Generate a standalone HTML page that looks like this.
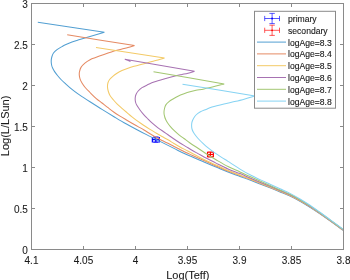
<!DOCTYPE html>
<html><head><meta charset="utf-8"><style>
html,body{margin:0;padding:0;background:#fff;width:350px;height:280px;overflow:hidden}
svg{display:block;will-change:transform}
text{font-family:"Liberation Sans",sans-serif;font-size:10px;fill:#1a1a1a;stroke:#1a1a1a;stroke-width:0.08px}
.lg text{font-size:8.6px;stroke-width:0.12px}
</style></head><body>
<svg width="350" height="280" viewBox="0 0 350 280">
<rect width="350" height="280" fill="#fff"/>
<defs><clipPath id="ax"><rect x="31" y="3" width="312" height="247"/></clipPath></defs>
<g stroke="#0000ff" stroke-width="1.2" fill="none"><path d="M152.35,139.70 H159.35 M152.35,137.00 V142.40 M159.35,137.00 V142.40 M155.85,137.20 V142.20 M153.15,137.20 H158.55 M153.15,142.20 H158.55"/></g><circle cx="155.85" cy="139.70" r="0.9" fill="#0000ff"/><g stroke="#ff0000" stroke-width="1.2" fill="none"><path d="M207.55,154.50 H213.35 M207.55,151.80 V157.20 M213.35,151.80 V157.20 M210.45,152.20 V156.80 M207.75,152.20 H213.15 M207.75,156.80 H213.15"/></g><circle cx="210.45" cy="154.50" r="0.9" fill="#ff0000"/>
<g clip-path="url(#ax)" fill="none" stroke-width="1.05" stroke-linejoin="miter" stroke-linecap="butt">
<path d="M37.80,22.20 C48.90,23.88 93.30,30.62 104.40,32.30 L104.40,32.30 C102.00,33.00 93.40,35.52 90.00,36.50 C86.60,37.48 86.00,37.62 84.00,38.20 C82.00,38.78 80.00,39.37 78.00,40.00 C76.00,40.63 74.00,41.25 72.00,42.00 C70.00,42.75 67.67,43.73 66.00,44.50 C64.33,45.27 63.50,45.75 62.00,46.60 C60.50,47.45 58.42,48.53 57.00,49.60 C55.58,50.67 54.37,51.77 53.50,53.00 C52.63,54.23 52.18,55.67 51.80,57.00 C51.42,58.33 51.23,59.67 51.20,61.00 C51.17,62.33 51.37,63.83 51.60,65.00 C51.83,66.17 52.10,66.90 52.60,68.00 C53.10,69.10 53.78,70.35 54.60,71.60 C55.42,72.85 56.43,74.18 57.50,75.50 C58.57,76.82 59.67,78.13 61.00,79.50 C62.33,80.87 63.67,82.05 65.50,83.70 C67.33,85.35 69.92,87.70 72.00,89.40 C74.08,91.10 76.00,92.48 78.00,93.90 C80.00,95.32 82.00,96.58 84.00,97.90 C86.00,99.22 87.00,99.88 90.00,101.80 C93.00,103.72 98.00,106.92 102.00,109.40 C106.00,111.88 110.00,114.30 114.00,116.70 C118.00,119.10 122.00,121.53 126.00,123.80 C130.00,126.07 134.00,128.20 138.00,130.30 C142.00,132.40 146.00,134.38 150.00,136.40 C154.00,138.42 158.00,140.40 162.00,142.40 C166.00,144.40 170.00,146.42 174.00,148.40 C178.00,150.38 181.00,152.03 186.00,154.30 C191.00,156.57 199.00,159.88 204.00,162.00 C209.00,164.12 212.00,165.32 216.00,167.00 C220.00,168.68 224.00,170.53 228.00,172.10 C232.00,173.67 236.33,175.07 240.00,176.40 C243.67,177.73 246.67,178.85 250.00,180.10 C253.33,181.35 256.67,182.62 260.00,183.90 C263.33,185.18 266.67,186.47 270.00,187.80 C273.33,189.13 276.67,190.52 280.00,191.90 C283.33,193.28 286.67,194.53 290.00,196.10 C293.33,197.67 296.67,199.43 300.00,201.30 C303.33,203.17 306.67,205.20 310.00,207.30 C313.33,209.40 316.67,211.63 320.00,213.90 C323.33,216.17 326.17,218.17 330.00,220.90 C333.83,223.63 340.83,228.73 343.00,230.30" stroke="#529fd2"/>
<path d="M67.20,34.80 C78.42,36.58 123.28,43.72 134.50,45.50 L134.50,45.50 C133.42,45.83 130.08,46.92 128.00,47.50 C125.92,48.08 124.00,48.50 122.00,49.00 C120.00,49.50 119.00,49.58 116.00,50.50 C113.00,51.42 107.50,53.30 104.00,54.50 C100.50,55.70 97.25,56.87 95.00,57.70 C92.75,58.53 92.18,58.60 90.50,59.50 C88.82,60.40 86.48,61.78 84.90,63.10 C83.32,64.42 81.90,65.97 81.00,67.40 C80.10,68.83 79.78,70.42 79.50,71.70 C79.22,72.98 79.20,73.85 79.30,75.10 C79.40,76.35 79.65,77.88 80.10,79.20 C80.55,80.52 81.15,81.62 82.00,83.00 C82.85,84.38 83.87,85.92 85.20,87.50 C86.53,89.08 88.20,90.70 90.00,92.50 C91.80,94.30 94.00,96.55 96.00,98.30 C98.00,100.05 100.00,101.43 102.00,103.00 C104.00,104.57 106.00,106.17 108.00,107.70 C110.00,109.23 112.00,110.80 114.00,112.20 C116.00,113.60 118.00,114.85 120.00,116.10 C122.00,117.35 124.00,118.52 126.00,119.70 C128.00,120.88 130.00,122.05 132.00,123.20 C134.00,124.35 136.00,125.47 138.00,126.60 C140.00,127.73 142.00,128.80 144.00,130.00 C146.00,131.20 148.00,132.58 150.00,133.80 C152.00,135.02 154.00,136.18 156.00,137.30 C158.00,138.42 160.00,139.50 162.00,140.50 C164.00,141.50 166.00,142.30 168.00,143.30 C170.00,144.30 172.00,145.47 174.00,146.50 C176.00,147.53 178.00,148.50 180.00,149.50 C182.00,150.50 184.00,151.55 186.00,152.50 C188.00,153.45 189.00,153.87 192.00,155.20 C195.00,156.53 200.00,158.70 204.00,160.50 C208.00,162.30 212.00,164.23 216.00,166.00 C220.00,167.77 224.00,169.53 228.00,171.10 C232.00,172.67 236.33,174.05 240.00,175.40 C243.67,176.75 246.67,177.90 250.00,179.20 C253.33,180.50 256.67,181.87 260.00,183.20 C263.33,184.53 266.67,185.84 270.00,187.20 C273.33,188.56 276.67,189.95 280.00,191.35 C283.33,192.75 286.67,194.02 290.00,195.60 C293.33,197.18 296.67,198.93 300.00,200.80 C303.33,202.67 306.67,204.68 310.00,206.80 C313.33,208.92 316.67,211.20 320.00,213.50 C323.33,215.80 326.17,217.83 330.00,220.60 C333.83,223.37 340.83,228.52 343.00,230.10" stroke="#e58a63"/>
<path d="M96.00,47.50 C107.42,49.25 153.08,56.25 164.50,58.00 L164.50,58.00 C163.42,58.32 160.08,59.32 158.00,59.90 C155.92,60.48 154.00,60.95 152.00,61.50 C150.00,62.05 148.00,62.65 146.00,63.20 C144.00,63.75 142.00,64.28 140.00,64.80 C138.00,65.32 136.00,65.73 134.00,66.30 C132.00,66.87 130.00,67.48 128.00,68.20 C126.00,68.92 123.83,69.75 122.00,70.60 C120.17,71.45 118.53,72.35 117.00,73.30 C115.47,74.25 114.03,75.27 112.80,76.30 C111.57,77.33 110.42,78.38 109.60,79.50 C108.78,80.62 108.25,81.75 107.90,83.00 C107.55,84.25 107.45,85.67 107.50,87.00 C107.55,88.33 107.78,89.57 108.20,91.00 C108.62,92.43 109.12,94.10 110.00,95.60 C110.88,97.10 112.33,98.63 113.50,100.00 C114.67,101.37 115.58,102.42 117.00,103.80 C118.42,105.18 120.33,106.83 122.00,108.30 C123.67,109.77 125.33,111.18 127.00,112.60 C128.67,114.02 130.17,115.33 132.00,116.80 C133.83,118.27 136.00,119.95 138.00,121.40 C140.00,122.85 142.00,124.17 144.00,125.50 C146.00,126.83 148.00,128.15 150.00,129.40 C152.00,130.65 154.00,131.82 156.00,133.00 C158.00,134.18 160.00,135.37 162.00,136.50 C164.00,137.63 166.00,138.63 168.00,139.80 C170.00,140.97 172.00,142.30 174.00,143.50 C176.00,144.70 178.00,145.90 180.00,147.00 C182.00,148.10 184.00,149.07 186.00,150.10 C188.00,151.13 189.00,151.63 192.00,153.20 C195.00,154.77 200.00,157.53 204.00,159.50 C208.00,161.47 212.00,163.15 216.00,165.00 C220.00,166.85 224.00,168.92 228.00,170.60 C232.00,172.28 236.33,173.72 240.00,175.10 C243.67,176.48 246.67,177.60 250.00,178.90 C253.33,180.20 256.67,181.57 260.00,182.90 C263.33,184.23 266.67,185.54 270.00,186.90 C273.33,188.26 276.67,189.65 280.00,191.05 C283.33,192.45 286.67,193.72 290.00,195.30 C293.33,196.87 296.67,198.63 300.00,200.50 C303.33,202.37 306.67,204.37 310.00,206.50 C313.33,208.63 316.67,210.98 320.00,213.30 C323.33,215.62 326.17,217.63 330.00,220.40 C333.83,223.17 340.83,228.32 343.00,229.90" stroke="#f3ca67"/>
<path d="M130.50,61.40 C129.55,61.06 125.75,59.69 124.80,59.35 L124.80,59.35 C136.42,61.33 182.88,69.23 194.50,71.20 L194.50,71.20 C193.42,71.53 190.08,72.65 188.00,73.20 C185.92,73.75 184.00,74.07 182.00,74.50 C180.00,74.93 179.00,75.05 176.00,75.80 C173.00,76.55 167.67,77.97 164.00,79.00 C160.33,80.03 156.67,81.07 154.00,82.00 C151.33,82.93 150.00,83.67 148.00,84.60 C146.00,85.53 143.63,86.53 142.00,87.60 C140.37,88.67 139.20,89.85 138.20,91.00 C137.20,92.15 136.50,93.33 136.00,94.50 C135.50,95.67 135.28,96.75 135.20,98.00 C135.12,99.25 135.20,100.73 135.50,102.00 C135.80,103.27 136.25,104.27 137.00,105.60 C137.75,106.93 138.92,108.53 140.00,110.00 C141.08,111.47 142.33,113.07 143.50,114.40 C144.67,115.73 145.58,116.58 147.00,118.00 C148.42,119.42 150.17,121.27 152.00,122.90 C153.83,124.53 156.00,126.28 158.00,127.80 C160.00,129.32 162.33,130.83 164.00,132.00 C165.67,133.17 166.33,133.63 168.00,134.80 C169.67,135.97 172.00,137.63 174.00,139.00 C176.00,140.37 178.00,141.73 180.00,143.00 C182.00,144.27 184.00,145.40 186.00,146.60 C188.00,147.80 190.00,149.03 192.00,150.20 C194.00,151.37 196.00,152.47 198.00,153.60 C200.00,154.73 202.00,155.93 204.00,157.00 C206.00,158.07 208.00,158.98 210.00,160.00 C212.00,161.02 213.00,161.62 216.00,163.10 C219.00,164.58 224.00,167.15 228.00,168.90 C232.00,170.65 236.33,172.08 240.00,173.60 C243.67,175.12 246.67,176.57 250.00,178.00 C253.33,179.43 256.67,180.82 260.00,182.20 C263.33,183.58 266.67,184.92 270.00,186.30 C273.33,187.68 276.67,189.08 280.00,190.50 C283.33,191.92 286.67,193.20 290.00,194.80 C293.33,196.40 296.67,198.20 300.00,200.10 C303.33,202.00 306.67,204.05 310.00,206.20 C313.33,208.35 316.67,210.67 320.00,213.00 C323.33,215.33 326.17,217.42 330.00,220.20 C333.83,222.98 340.83,228.12 343.00,229.70" stroke="#a772b2"/>
<path d="M153.50,71.80 C165.28,73.82 212.42,81.88 224.20,83.90 L224.20,83.90 C222.83,84.27 219.37,85.27 216.00,86.10 C212.63,86.93 207.33,88.20 204.00,88.90 C200.67,89.60 198.33,89.82 196.00,90.30 C193.67,90.78 192.00,91.22 190.00,91.80 C188.00,92.38 186.00,93.07 184.00,93.80 C182.00,94.53 179.83,95.33 178.00,96.20 C176.17,97.07 174.50,98.10 173.00,99.00 C171.50,99.90 170.17,100.67 169.00,101.60 C167.83,102.53 166.75,103.45 166.00,104.60 C165.25,105.75 164.83,107.10 164.50,108.50 C164.17,109.90 163.98,111.67 164.00,113.00 C164.02,114.33 164.30,115.37 164.60,116.50 C164.90,117.63 165.32,118.75 165.80,119.80 C166.28,120.85 166.77,121.72 167.50,122.80 C168.23,123.88 169.12,125.03 170.20,126.30 C171.28,127.57 172.53,128.98 174.00,130.40 C175.47,131.82 177.33,133.45 179.00,134.80 C180.67,136.15 182.17,137.13 184.00,138.50 C185.83,139.87 187.67,141.37 190.00,143.00 C192.33,144.63 195.67,146.75 198.00,148.30 C200.33,149.85 202.00,150.98 204.00,152.30 C206.00,153.62 208.00,154.95 210.00,156.20 C212.00,157.45 213.00,158.08 216.00,159.80 C219.00,161.52 224.00,164.48 228.00,166.50 C232.00,168.52 236.33,170.22 240.00,171.90 C243.67,173.58 246.67,175.07 250.00,176.60 C253.33,178.13 256.67,179.62 260.00,181.10 C263.33,182.58 266.67,184.03 270.00,185.50 C273.33,186.97 276.67,188.43 280.00,189.90 C283.33,191.37 286.67,192.67 290.00,194.30 C293.33,195.93 296.67,197.77 300.00,199.70 C303.33,201.63 306.67,203.73 310.00,205.90 C313.33,208.07 316.67,210.37 320.00,212.70 C323.33,215.03 326.17,217.12 330.00,219.90 C333.83,222.68 340.83,227.82 343.00,229.40" stroke="#a3c772"/>
<path d="M182.50,84.20 C194.58,86.17 242.92,94.03 255.00,96.00 L248.00,98.00 C246.00,98.55 240.00,100.32 236.00,101.30 C232.00,102.28 228.00,102.95 224.00,103.90 C220.00,104.85 215.00,106.08 212.00,107.00 C209.00,107.92 208.00,108.57 206.00,109.40 C204.00,110.23 201.67,111.07 200.00,112.00 C198.33,112.93 197.08,113.93 196.00,115.00 C194.92,116.07 194.17,117.23 193.50,118.40 C192.83,119.57 192.32,120.82 192.00,122.00 C191.68,123.18 191.60,124.33 191.60,125.50 C191.60,126.67 191.70,127.87 192.00,129.00 C192.30,130.13 192.73,131.13 193.40,132.30 C194.07,133.47 194.98,134.72 196.00,136.00 C197.02,137.28 198.25,138.68 199.50,140.00 C200.75,141.32 202.17,142.67 203.50,143.90 C204.83,145.13 206.08,146.25 207.50,147.40 C208.92,148.55 210.58,149.77 212.00,150.80 C213.42,151.83 214.33,152.47 216.00,153.60 C217.67,154.73 220.00,156.30 222.00,157.60 C224.00,158.90 225.00,159.48 228.00,161.40 C231.00,163.32 236.33,166.87 240.00,169.10 C243.67,171.33 246.67,173.05 250.00,174.80 C253.33,176.55 256.67,178.03 260.00,179.60 C263.33,181.17 266.67,182.67 270.00,184.20 C273.33,185.73 276.67,187.27 280.00,188.80 C283.33,190.33 286.67,191.70 290.00,193.40 C293.33,195.10 296.67,197.02 300.00,199.00 C303.33,200.98 306.67,203.08 310.00,205.30 C313.33,207.52 316.67,209.92 320.00,212.30 C323.33,214.68 326.17,216.78 330.00,219.60 C333.83,222.42 340.83,227.60 343.00,229.20" stroke="#86d3f3"/>
</g>
<rect x="31.5" y="3.5" width="312" height="246" fill="none" stroke="#8a8a8a"/>
<g stroke="#8a8a8a" stroke-width="1"><line x1="31.5" y1="249" x2="31.5" y2="246"/><line x1="31.5" y1="4" x2="31.5" y2="7"/><line x1="83.5" y1="249" x2="83.5" y2="246"/><line x1="83.5" y1="4" x2="83.5" y2="7"/><line x1="135.5" y1="249" x2="135.5" y2="246"/><line x1="135.5" y1="4" x2="135.5" y2="7"/><line x1="187.5" y1="249" x2="187.5" y2="246"/><line x1="187.5" y1="4" x2="187.5" y2="7"/><line x1="239.5" y1="249" x2="239.5" y2="246"/><line x1="239.5" y1="4" x2="239.5" y2="7"/><line x1="291.5" y1="249" x2="291.5" y2="246"/><line x1="291.5" y1="4" x2="291.5" y2="7"/><line x1="343.5" y1="249" x2="343.5" y2="246"/><line x1="343.5" y1="4" x2="343.5" y2="7"/><line x1="32" y1="249.5" x2="35" y2="249.5"/><line x1="343" y1="249.5" x2="340" y2="249.5"/><line x1="32" y1="208.5" x2="35" y2="208.5"/><line x1="343" y1="208.5" x2="340" y2="208.5"/><line x1="32" y1="167.5" x2="35" y2="167.5"/><line x1="343" y1="167.5" x2="340" y2="167.5"/><line x1="32" y1="126.5" x2="35" y2="126.5"/><line x1="343" y1="126.5" x2="340" y2="126.5"/><line x1="32" y1="85.5" x2="35" y2="85.5"/><line x1="343" y1="85.5" x2="340" y2="85.5"/><line x1="32" y1="44.5" x2="35" y2="44.5"/><line x1="343" y1="44.5" x2="340" y2="44.5"/><line x1="32" y1="3.5" x2="35" y2="3.5"/><line x1="343" y1="3.5" x2="340" y2="3.5"/></g>
<g><text x="31.5" y="263.8" text-anchor="middle">4.1</text><text x="83.5" y="263.8" text-anchor="middle">4.05</text><text x="135.5" y="263.8" text-anchor="middle">4</text><text x="187.5" y="263.8" text-anchor="middle">3.95</text><text x="239.5" y="263.8" text-anchor="middle">3.9</text><text x="291.5" y="263.8" text-anchor="middle">3.85</text><text x="343.5" y="263.8" text-anchor="middle">3.8</text><text x="27.8" y="253.8" text-anchor="end">0</text><text x="27.8" y="212.8" text-anchor="end">0.5</text><text x="27.8" y="171.8" text-anchor="end">1</text><text x="27.8" y="130.8" text-anchor="end">1.5</text><text x="27.8" y="89.8" text-anchor="end">2</text><text x="27.8" y="48.8" text-anchor="end">2.5</text><text x="27.8" y="7.8" text-anchor="end">3</text></g>
<g class="lg"><rect x="254.5" y="11.3" width="81" height="96.9" fill="#fff" stroke="#8a8a8a"/><g stroke="#0000ff" stroke-width="0.65" fill="none"><path d="M264.7,18.5 H279.5 M264.7,15.9 V21.1 M279.5,15.9 V21.1 M272.1,13.4 V23.6 M269.4,13.4 H274.8 M269.4,23.6 H274.8"/></g><circle cx="272.1" cy="18.5" r="0.9" fill="#0000ff"/><text x="288.0" y="22.20">primary</text><g stroke="#ff0000" stroke-width="0.65" fill="none"><path d="M264.7,30.3 H279.5 M264.7,27.7 V32.9 M279.5,27.7 V32.9 M272.1,25.2 V35.4 M269.4,25.2 H274.8 M269.4,35.4 H274.8"/></g><circle cx="272.1" cy="30.3" r="0.9" fill="#ff0000"/><text x="288.0" y="33.96">secondary</text><line x1="257" y1="42.1" x2="286" y2="42.1" stroke="#529fd2" stroke-width="1"/><text x="288.0" y="45.71">logAge=8.3</text><line x1="257" y1="53.9" x2="286" y2="53.9" stroke="#e58a63" stroke-width="1"/><text x="288.0" y="57.47">logAge=8.4</text><line x1="257" y1="65.7" x2="286" y2="65.7" stroke="#f3ca67" stroke-width="1"/><text x="288.0" y="69.23">logAge=8.5</text><line x1="257" y1="77.5" x2="286" y2="77.5" stroke="#a772b2" stroke-width="1"/><text x="288.0" y="80.98">logAge=8.6</text><line x1="257" y1="89.3" x2="286" y2="89.3" stroke="#a3c772" stroke-width="1"/><text x="288.0" y="92.74">logAge=8.7</text><line x1="257" y1="101.1" x2="286" y2="101.1" stroke="#86d3f3" stroke-width="1"/><text x="288.0" y="104.50">logAge=8.8</text></g>
<text x="187.8" y="278.8" text-anchor="middle" style="font-size:11px">Log(Teff)</text>
<text transform="translate(9.3,125.9) rotate(-90)" text-anchor="middle" style="font-size:11px">Log(L/LSun)</text>
</svg>
</body></html>
